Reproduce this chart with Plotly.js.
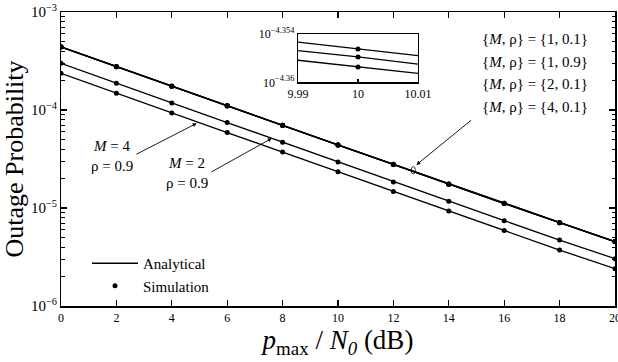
<!DOCTYPE html>
<html>
<head>
<meta charset="utf-8">
<script src="https://cdn.plot.ly/plotly-3.0.1.min.js"></script>
<style>html,body{margin:0;padding:0;background:#fff;}#chart{width:618px;height:362px;}</style>
</head>
<body>
<div id="chart"></div>
<script>
// ---- data ----
var snr = [0, 2, 4, 6, 8, 10, 12, 14, 16, 18, 20];
var p_M1_r01 = [4.42e-4, 2.78e-4, 1.76e-4, 1.11e-4, 6.99e-5, 4.41e-5, 2.79e-5, 1.76e-5, 1.12e-5, 7.10e-6, 4.55e-6];
var p_M1_r09 = [4.41e-4, 2.77e-4, 1.75e-4, 1.11e-4, 6.98e-5, 4.40e-5, 2.79e-5, 1.76e-5, 1.12e-5, 7.09e-6, 4.54e-6];
var p_M2_r01 = [4.40e-4, 2.77e-4, 1.75e-4, 1.10e-4, 6.97e-5, 4.39e-5, 2.78e-5, 1.75e-5, 1.11e-5, 7.08e-6, 4.53e-6];
var p_M4_r01 = [4.39e-4, 2.76e-4, 1.75e-4, 1.10e-4, 6.96e-5, 4.38e-5, 2.78e-5, 1.75e-5, 1.11e-5, 7.07e-6, 4.52e-6];
var p_M2_r09 = [3.00e-4, 1.87e-4, 1.18e-4, 7.45e-5, 4.70e-5, 2.95e-5, 1.84e-5, 1.17e-5, 7.43e-6, 4.71e-6, 3.04e-6];
var p_M4_r09 = [2.37e-4, 1.48e-4, 9.31e-5, 5.88e-5, 3.72e-5, 2.34e-5, 1.47e-5, 9.31e-6, 5.88e-6, 3.72e-6, 2.40e-6];

// inset (zoom around 10 dB)
var insetX = [9.99, 10, 10.01];
var insetA = [4.4157e-5, 4.4070e-5, 4.3985e-5];
var insetB = [4.4049e-5, 4.3969e-5, 4.3878e-5];
var insetC = [4.3928e-5, 4.3843e-5, 4.3764e-5];

var xTickVals = [0, 2, 4, 6, 8, 10, 12, 14, 16, 18, 20];
var insetXTickText = ['9.99', '10', '10.01'];
var insetYTickExp = [-4.36, -4.354];
var insetYTickText = ['10<sup>\u22124.36</sup>', '10<sup>\u22124.354</sup>'];

var FONT = '"Liberation Serif", "Times New Roman", serif';
var lineStyle = {color: '#000', width: 1.3};
var mk = {color: '#000', size: 5};

// minor tick positions for the log axis (2..9 in each decade)
var minorTicks = [];
[-6, -5, -4].forEach(function (d) {
  for (var m = 2; m <= 9; m++) minorTicks.push(m * Math.pow(10, d));
});

var mainSeries = [p_M1_r01, p_M1_r09, p_M2_r01, p_M4_r01, p_M2_r09, p_M4_r09];
var traces = [];
mainSeries.forEach(function (s, i) {
  traces.push({x: snr, y: s, mode: 'lines', line: lineStyle, name: 'Analytical',
    showlegend: i === 0, legendrank: 1, hoverinfo: 'skip'});
});
mainSeries.forEach(function (s, i) {
  traces.push({x: snr, y: s, mode: 'markers', marker: mk, name: 'Simulation',
    showlegend: i === 0, legendrank: 2, hoverinfo: 'skip'});
});
[insetA, insetB, insetC].forEach(function (s) {
  traces.push({x: insetX, y: s, xaxis: 'x2', yaxis: 'y2', mode: 'lines',
    line: {color: '#000', width: 1.3}, showlegend: false, hoverinfo: 'skip'});
  traces.push({x: [insetX[1]], y: [s[1]], xaxis: 'x2', yaxis: 'y2', mode: 'markers',
    marker: {color: '#000', size: 5}, showlegend: false, hoverinfo: 'skip'});
});
// empty trace so the minor-tick overlay axis is drawn
traces.push({x: [null], y: [null], yaxis: 'y3', mode: 'markers', showlegend: false, hoverinfo: 'skip'});

function pxX(px) { return (px - 61) / 554; }
function pxY(py) { return (306 - py) / 294; }

var labelFont = {family: FONT, size: 15, color: '#000'};
var setLabels = ['{<i>M</i>, \u03c1} = {1, 0.1}', '{<i>M</i>, \u03c1} = {1, 0.9}',
                 '{<i>M</i>, \u03c1} = {2, 0.1}', '{<i>M</i>, \u03c1} = {4, 0.1}'];
var setLabelY = [38.5, 61.5, 84.3, 106.7];
var annotations = setLabels.map(function (t, i) {
  return {text: t, xref: 'paper', yref: 'paper', x: pxX(535), y: pxY(setLabelY[i]),
    xanchor: 'center', yanchor: 'middle', showarrow: false, font: labelFont};
});
annotations.push({text: '<i>M</i> = 4<br>\u03c1 = 0.9', xref: 'paper', yref: 'paper',
  x: pxX(112), y: pxY(156), xanchor: 'center', yanchor: 'middle', showarrow: false, font: labelFont});
annotations.push({text: '<i>M</i> = 2<br>\u03c1 = 0.9', xref: 'paper', yref: 'paper',
  x: pxX(187), y: pxY(173), xanchor: 'center', yanchor: 'middle', showarrow: false, font: labelFont});
// arrows (log axis annotations use log10 coordinates)
function arrow(x, y, ax, ay) {
  return {text: '', x: x, y: y, ax: ax, ay: ay, xref: 'x', yref: 'y', axref: 'x', ayref: 'y',
    showarrow: true, arrowhead: 2, arrowsize: 0.9, arrowwidth: 0.9, arrowcolor: '#000', standoff: 0};
}
annotations.push(arrow(12.83, -4.560, 14.86, -4.092));
annotations.push(arrow(4.90, -4.136, 2.67, -4.459));
annotations.push(arrow(7.61, -4.289, 5.38, -4.640));

var axisCommon = {showline: true, linecolor: '#000', linewidth: 1.5, mirror: 'ticks',
  ticks: 'inside', tickcolor: '#000', tickwidth: 1.2, showgrid: false, zeroline: false,
  tickfont: {family: FONT, size: 12, color: '#000'}};

var layout = {
  width: 618, height: 362,
  margin: {l: 61, r: 3, t: 12, b: 56},
  paper_bgcolor: '#fff', plot_bgcolor: '#fff',
  font: {family: FONT, color: '#000'},
  showlegend: true,
  legend: {x: pxX(87), y: pxY(247), xanchor: 'left', yanchor: 'top',
    bgcolor: 'rgba(0,0,0,0)', borderwidth: 0, font: {family: FONT, size: 15, color: '#000'},
    itemwidth: 46, tracegroupgap: 0},
  xaxis: Object.assign({}, axisCommon, {range: [0, 20], tickvals: xTickVals, ticklen: 6,
    ticklabeloverflow: 'allow',
    title: {text: '<i>p</i><sub>max</sub> / <i>N<sub>0</sub></i> (dB)', font: {family: FONT, size: 27, color: '#000'}, standoff: 2}}),
  yaxis: Object.assign({}, axisCommon, {type: 'log', range: [-6, -3], dtick: 1,
    exponentformat: 'power', ticklen: 6,
    title: {text: 'Outage Probability', font: {family: FONT, size: 26, color: '#000'}, standoff: 0}}),
  yaxis3: {type: 'log', range: [-6, -3], overlaying: 'y', anchor: 'x', side: 'left',
    tickvals: minorTicks, ticks: 'inside', ticklen: 3.5, tickcolor: '#000', tickwidth: 1,
    showticklabels: false, showgrid: false, zeroline: false, showline: false, mirror: 'ticks'},
  xaxis2: Object.assign({}, axisCommon, {domain: [pxX(298), pxX(418)], anchor: 'y2',
    range: [9.99, 10.01], tickvals: insetX, ticktext: insetXTickText, ticklen: 3, linewidth: 1.2,
    mirror: true, tickfont: {family: FONT, size: 12, color: '#000'}}),
  yaxis2: Object.assign({}, axisCommon, {domain: [pxY(82.3), pxY(34)], anchor: 'x2', type: 'log',
    range: insetYTickExp, tickvals: insetYTickExp.map(function (e) { return Math.pow(10, e); }),
    ticktext: insetYTickText, ticklen: 3, linewidth: 1.2, mirror: true,
    tickfont: {family: FONT, size: 12, color: '#000'}}),
  shapes: [{type: 'circle', xref: 'paper', yref: 'paper', x0: pxX(411.3), x1: pxX(415.3),
    y0: pxY(174), y1: pxY(166.5), line: {color: '#000', width: 0.8}}],
  annotations: annotations
};

Plotly.newPlot('chart', traces, layout, {displayModeBar: false, staticPlot: true});
</script>
</body>
</html>
